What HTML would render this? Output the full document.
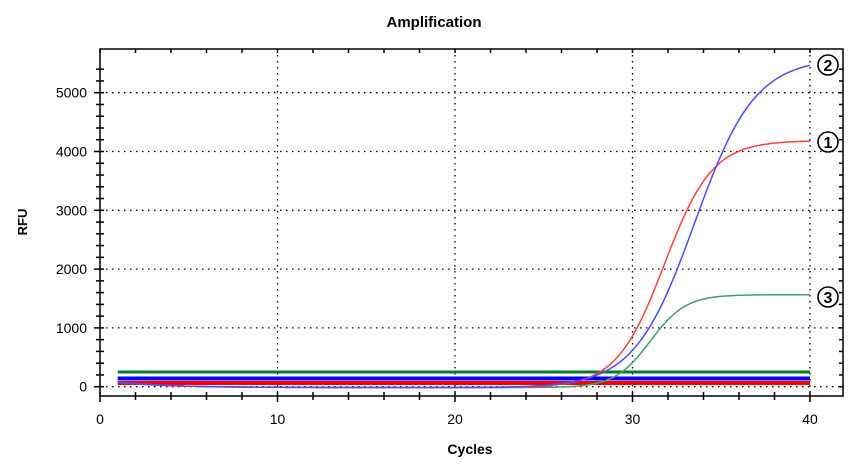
<!DOCTYPE html>
<html><head><meta charset="utf-8"><style>
body{margin:0;background:#fff;}
svg{display:block;font-family:"Liberation Sans",Arial,sans-serif;}
</style></head><body>
<svg id="s" width="868" height="470" viewBox="0 0 868 470">
<text x="434" y="27" text-anchor="middle" font-size="15" font-weight="bold">Amplification</text>
<text x="470" y="454" text-anchor="middle" font-size="14" font-weight="bold">Cycles</text>
<text transform="translate(27,222) rotate(-90)" text-anchor="middle" font-size="13" font-weight="bold">RFU</text>
<g id="g"></g>
</svg>
<script>
var g=document.getElementById('g'),h='';
function X(c){return 100+c*17.75;}
function Y(v){return 386.7-v*0.0588;}
// grid
for(var c=10;c<=40;c+=10)h+='<line x1="'+X(c)+'" y1="49" x2="'+X(c)+'" y2="396" stroke="#000" stroke-dasharray="1.5 4.5" stroke-width="1.3"/>';
for(var v=0;v<=5000;v+=1000)h+='<line x1="100" y1="'+Y(v)+'" x2="843" y2="'+Y(v)+'" stroke="#000" stroke-dasharray="1.5 4.5" stroke-width="1.3"/>';
// frame
h+='<rect x="100" y="49" width="743" height="347" fill="none" stroke="#000" stroke-width="1.5"/>';
// y ticks
for(var v=0;v<=5400;v+=200){var y=Y(v),M=v%1000==0;h+='<line x1="'+(M?94:96)+'" y1="'+y+'" x2="104" y2="'+y+'" stroke="#000" stroke-width="1.5"/>';
h+='<line x1="839" y1="'+y+'" x2="843" y2="'+y+'" stroke="#000" stroke-width="1.5"/>';
if(M)h+='<text x="87" y="'+(y+5)+'" text-anchor="end" font-size="14">'+v+'</text>';}
for(var c=0;c<=41;c+=2){var x=X(c),M=c%10==0;h+='<line x1="'+x+'" y1="392" x2="'+x+'" y2="'+(M?402:400)+'" stroke="#000" stroke-width="1.5"/>';
h+='<line x1="'+x+'" y1="49" x2="'+x+'" y2="53" stroke="#000" stroke-width="1.5"/>';
if(M)h+='<text x="'+x+'" y="424" text-anchor="middle" font-size="14">'+c+'</text>';}
// thresholds
h+='<line x1="'+X(1)+'" y1="372" x2="'+X(40)+'" y2="372" stroke="#0a7a2e" stroke-width="3"/>';
h+='<line x1="'+X(1)+'" y1="378.5" x2="'+X(40)+'" y2="378.5" stroke="#0000ff" stroke-width="4"/>';
h+='<line x1="'+X(1)+'" y1="383" x2="'+X(40)+'" y2="383" stroke="#ff0000" stroke-width="4"/>';
function curve(A,m,s,col){var p='';for(var c=1;c<=40.001;c+=0.25){var v=A/(1+Math.exp(-(c-m)/s))+90*Math.exp(-(c-1)/3)-15;p+=(p?'L':'M')+X(c).toFixed(1)+','+Y(v).toFixed(1);}
return '<path d="'+p+'" fill="none" stroke="'+col+'" stroke-width="1.5"/>';}
h+=curve(1580,31,1.0,'#3fa06a');
h+=curve(4200,31.8,1.35,'#ff4040');
h+=curve(5600,33.5,1.7,'#4a4aff');
function circ(n,y){return '<circle cx="828" cy="'+y+'" r="10" fill="#fff" stroke="#000" stroke-width="1.6"/><text x="828" y="'+(y+6)+'" text-anchor="middle" font-size="16" font-weight="bold">'+n+'</text>';}
h+=circ(2,65)+circ(1,142)+circ(3,297);
g.innerHTML=h;
</script>
</body></html>
